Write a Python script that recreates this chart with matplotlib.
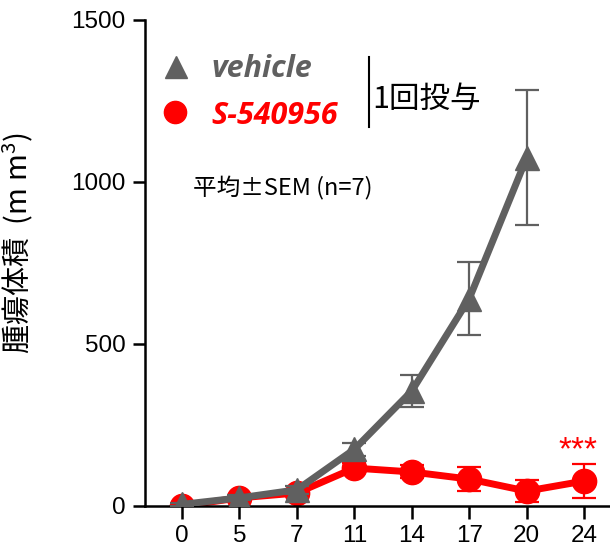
import matplotlib.pyplot as plt
import numpy as np

plt.rcParams['font.family'] = ['Liberation Sans', 'Noto Sans CJK JP', 'DejaVu Sans']

days = ["0", "5", "7", "11", "14", "17", "20", "24"]
vehicle_mean = [5, 25, 50, 175, 355, 640, 1075]
vehicle_sem = [5, 8, 12, 20, 50, 112, 208]
drug_mean = [0, 25, 40, 117, 105, 83, 46, 77]
drug_sem = [5, 8, 10, 15, 20, 38, 34, 52]

gray = "#606060"
red = "#ff0000"
jp = ["Noto Sans CJK JP", "DejaVu Sans"]

fig = plt.figure(figsize=(6.1, 5.57), dpi=100)
ax = fig.add_axes([0.2377, 0.0916, 0.7623, 0.8725])

x = np.arange(len(days))
ax.errorbar(x, drug_mean, yerr=drug_sem, color=red, lw=5, marker="o", ms=17.5,
            ecolor=red, elinewidth=1.6, capsize=8.5, capthick=1.6, zorder=2)
ax.errorbar(x[:len(vehicle_mean)], vehicle_mean, yerr=vehicle_sem, color=gray, lw=5,
            marker="^", ms=17, ecolor=gray, elinewidth=1.6, capsize=8.5,
            capthick=1.6, zorder=3)

ax.set_xlim(-0.644, 7.45)
ax.set_ylim(0, 1500)
ax.set_xticks(x)
ax.set_xticklabels(days)
ax.set_yticks([0, 500, 1000, 1500])
for s in ["top", "right"]:
    ax.spines[s].set_visible(False)
for s in ["left", "bottom"]:
    ax.spines[s].set_linewidth(1.8)
ax.tick_params(direction="out", length=9, width=1.8, labelsize=17.5, pad=5)
ax.set_ylabel("腫瘍体積  (m m$^{\\mathdefault{3}}$)", fontsize=21,
              family="Noto Sans CJK JP")
ax.yaxis.set_label_coords(-0.235, 0.54)

# legend built by hand
ax.plot([-0.10], [1355], marker="^", ms=16, color=gray, clip_on=False)
ax.plot([-0.12], [1215], marker="o", ms=16, color=red, clip_on=False)
ax.text(0.52, 1348, "vehicle", color=gray, fontsize=22, fontweight="bold",
        fontstyle="italic", family="Open Sans", va="center")
ax.text(0.52, 1205, "S-540956", color=red, fontsize=22, fontweight="bold",
        fontstyle="italic", family="Open Sans", va="center")
ax.plot([3.26, 3.26], [1170, 1385], color="black", lw=1.5)
ax.text(3.31, 1255, "1回投与", fontsize=22, va="center", family=jp)
ax.text(0.2, 980, "平均±SEM (n=7)", fontsize=17, va="center", family=jp)

ax.text(6.9, drug_mean[7] + drug_sem[7] + 40, "***", color=red, fontsize=24,
        ha="center", va="center")

fig.savefig("out.png", dpi=100)
